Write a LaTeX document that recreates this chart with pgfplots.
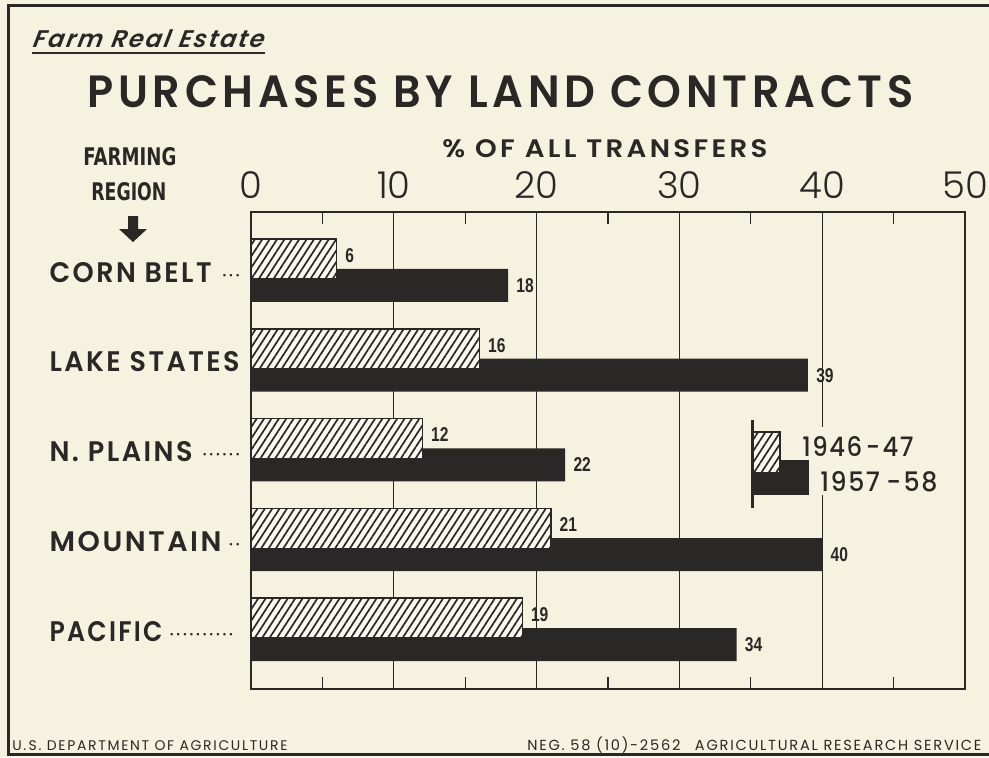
\documentclass[border=0pt]{standalone}
\usepackage{pgfplots}
\pgfplotsset{compat=1.18}
\usepackage{fontspec}
\usepackage{graphicx}
\usetikzlibrary{patterns.meta}
\setmainfont{Poppins}
\newfontfamily\pop{Poppins}
\newfontfamily\popl{Poppins Light}
\newfontfamily\popm{Poppins Medium}
\newfontfamily\popsb{Poppins SemiBold}
\newfontfamily\lib{Liberation Sans}
\newfontfamily\djv{DejaVu Sans}
\definecolor{bg}{RGB}{245,242,224}
\definecolor{ink}{RGB}{42,39,39}
\definecolor{hbg}{RGB}{251,249,240}
\tikzset{hatch/.style={fill=hbg, postaction={pattern color=ink, pattern={Lines[angle=57,distance=3.1pt,line width=0.85pt]}}}}
\newcommand\dotlead{\kern2pt\leaders\hbox to 3.3pt{\hss\pop\fontsize{10}{10}\selectfont ·\hss}\hfill}
\newcommand\lab[2]{\resizebox{#1}{10pt}{\popsb\addfontfeature{LetterSpace=9}#2}}
\begin{document}
\begin{tikzpicture}
\path[use as bounding box] (0,0) rectangle (494.5pt,-378.5pt);
\clip (0,0) rectangle (494.5pt,-378.5pt);
\fill[bg] (0,0) rectangle (494.5pt,-378.5pt);
\begin{scope}[x=0.5pt,y=-0.5pt]
\draw[ink, line width=1.5pt] (1100,5) -- (8,5) -- (8,754) -- (1100,754);
\end{scope}
\begin{axis}[
  at={(125.5pt,-344.5pt)}, anchor=south west,
  scale only axis, width=357pt, height=238.5pt,
  xmin=0, xmax=50, ymin=-0.643, ymax=4.671,
  axis line style={ink, line width=1pt},
  xtick={0,10,20,30,40,50}, xticklabels={0,10,20,30,40,50},
  xticklabel pos=right,
  xticklabel style={font=\popl\fontsize{18.5}{18.5}\selectfont, text=ink, anchor=south, inner sep=0pt, yshift=6.5pt},
  minor xtick={5,15,25,35,45},
  xmajorgrids, major grid style={ink, line width=0.65pt},
  major tick length=0pt, minor tick length=6pt,
  minor tick style={ink, line width=0.65pt},
  ytick={0,1,2,3,4},
  yticklabels={
    {\makebox[98.5pt][l]{\lab{56.5pt}{PACIFIC}\dotlead\kern3.5pt}},
    {\makebox[98.5pt][l]{\lab{86pt}{MOUNTAIN}\dotlead}},
    {\makebox[98.5pt][l]{\lab{71.5pt}{N. PLAINS}\dotlead}},
    {\makebox[98.5pt][l]{\lab{95pt}{LAKE STATES}\hfill}},
    {\makebox[98.5pt][l]{\lab{81pt}{CORN BELT}\dotlead}}},
  yticklabel style={anchor=east, inner sep=0pt, xshift=-2pt, text=ink},
  /pgf/number format/assume math mode=true,
  clip=false,
]
\addplot[xbar, bar width=16.5pt, bar shift=-6.6pt, fill=ink, draw=none,
  nodes near coords={\scalebox{0.78}[1]{\pgfmathprintnumber{\pgfplotspointmeta}}},
  nodes near coords style={anchor=west, inner sep=0pt, xshift=4pt, yshift=-6.6pt, text=ink, font=\lib\bfseries\fontsize{10}{10}\selectfont}]
  coordinates {(18,4) (39,3) (22,2) (40,1) (34,0)};
\addplot[xbar, bar width=20pt, bar shift=6.6pt, hatch, draw=ink, line width=0.75pt,
  nodes near coords={\scalebox{0.78}[1]{\pgfmathprintnumber{\pgfplotspointmeta}}},
  nodes near coords style={anchor=west, inner sep=0pt, xshift=4pt, yshift=8.4pt, text=ink, font=\lib\bfseries\fontsize{10}{10}\selectfont}]
  coordinates {(6,4) (16,3) (12,2) (21,1) (19,0)};
\end{axis}
\begin{scope}[x=0.5pt,y=-0.5pt]
% legend
\fill[bg] (818,427) rectangle (828,495);
\fill[ink] (752,460) rectangle (809,495);
\draw[ink, line width=0.75pt, hatch] (753.5,432) rectangle (780,473);
\draw[ink, line width=1.5pt] (752,420) -- (752,508);
\node[anchor=base west, inner sep=0pt, text=ink] at (802,456) {\resizebox{55.5pt}{10pt}{\popm\addfontfeature{LetterSpace=6}1946\kern1.5pt-\kern1pt47}};
\node[anchor=base west, inner sep=0pt, text=ink] at (820,491) {\resizebox{58.5pt}{10pt}{\popm\addfontfeature{LetterSpace=6}1957\kern2.5pt-\kern1pt58}};
% titles
\node[anchor=base west, inner sep=0pt, text=ink] at (32,47) {\resizebox{115.5pt}{!}{\popsb\itshape\fontsize{12}{12}\selectfont\addfontfeature{LetterSpace=8,FakeSlant=0.2}Farm Real Estate}};
\draw[ink, line width=1pt] (32,53) -- (265,53);
\node[anchor=base west, inner sep=0pt, text=ink] at (87,107) {\resizebox{413pt}{16pt}{\popsb\addfontfeature{LetterSpace=11}PURCHASES BY LAND CONTRACTS}};
\node[anchor=base west, inner sep=0pt, text=ink] at (442,157) {\resizebox{162.5pt}{9pt}{\popsb\addfontfeature{LetterSpace=12}\% OF ALL TRANSFERS}};
\node[anchor=base west, inner sep=0pt, text=ink] at (83,165) {\resizebox{46.5pt}{9pt}{\djv\bfseries FARMING}};
\node[anchor=base west, inner sep=0pt, text=ink] at (91,200) {\resizebox{37.5pt}{9pt}{\djv\bfseries REGION}};
\fill[ink] (128,216) -- (138,216) -- (138,229) -- (147,229) -- (133,242) -- (119,229) -- (128,229) -- cycle;
% footer
\node[anchor=base west, inner sep=0pt, text=ink] at (12,750) {\resizebox{137.5pt}{!}{\pop\fontsize{6.4}{6.4}\selectfont\addfontfeature{LetterSpace=12}U.\,S. DEPARTMENT OF AGRICULTURE}};
\node[anchor=base west, inner sep=0pt, text=ink] at (527,750) {\resizebox{227pt}{!}{\pop\fontsize{6.4}{6.4}\selectfont\addfontfeature{LetterSpace=12}NEG. 58 (10)-2562\quad AGRICULTURAL RESEARCH SERVICE}};
\end{scope}
\end{tikzpicture}
\end{document}
